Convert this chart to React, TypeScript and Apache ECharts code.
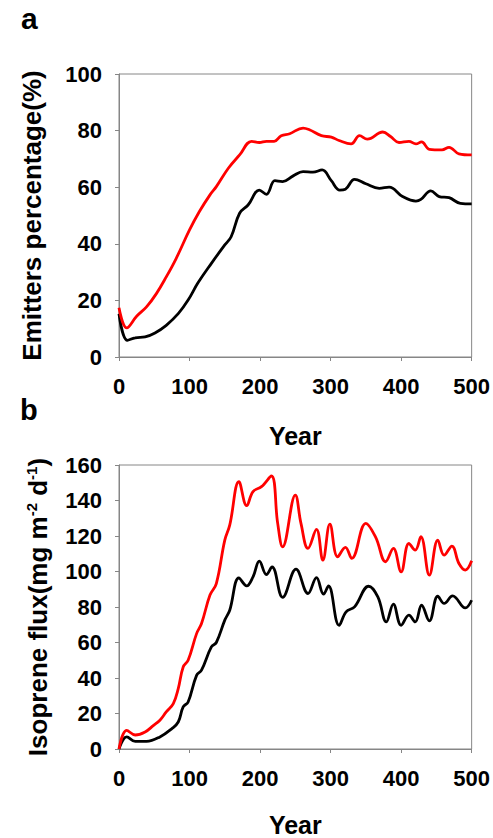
import React, { useEffect, useRef } from "react";
import * as echarts from "echarts";

// ---- Data ----
const xTicks = [0, 100, 200, 300, 400, 500];

// Panel a: Emitters percentage (%)
const emitRedYears = [0, 11, 25, 39, 53, 67, 81, 100, 114, 129, 138, 155, 171, 188, 199, 209, 220, 230, 242, 261, 270, 287, 301, 312, 329, 341, 352, 374, 385, 397, 411, 421, 429, 440, 458, 468, 482, 500];
const emitRed = [17.4, 10.3, 14.4, 17.7, 22.4, 28.3, 34.8, 44.9, 51.4, 57.3, 60.2, 66.7, 71.4, 76.2, 75.8, 76.2, 76.2, 78.2, 78.9, 80.9, 80.3, 78.2, 77.7, 76.5, 75.3, 78.2, 77.0, 79.5, 77.9, 75.8, 76.2, 75.3, 76.0, 73.4, 73.2, 74.1, 71.8, 71.4];

const emitBlackYears = [0, 12, 23, 37, 51, 67, 84, 98, 112, 131, 150, 159, 171, 183, 199, 209, 221, 232, 247, 261, 275, 288, 301, 313, 321, 334, 350, 369, 383, 402, 421, 428, 442, 454, 468, 484, 500];
const emitBlack = [15.3, 5.9, 6.8, 7.1, 8.5, 11.2, 15.3, 20.1, 26.2, 33.1, 39.6, 42.5, 50.8, 53.7, 59.0, 57.5, 62.3, 62.0, 64.0, 65.5, 65.3, 66.1, 62.3, 59.0, 59.3, 62.8, 61.2, 59.6, 60.0, 56.7, 55.1, 55.7, 58.7, 56.7, 56.3, 54.3, 54.1];

// Panel b: Isoprene flux (mg m-2 d-1)
const fluxRedYears = [0, 11, 23, 37, 49, 58, 67, 77, 84, 91, 98, 110, 117, 129, 138, 150, 157, 170, 181, 190, 202, 216, 225, 232, 250, 258, 268, 280, 289, 299, 310, 321, 330, 350, 364, 378, 389, 400, 411, 420, 428, 440, 452, 461, 472, 482, 491, 500];
const fluxRed = [0, 10.5, 7.9, 9.6, 13.3, 16.2, 20.9, 25.6, 34, 46.2, 50, 65, 70.7, 86.7, 93.2, 117.7, 126.1, 150.6, 137.1, 145, 147.8, 153.8, 127.1, 113.9, 143, 127.1, 113, 123.7, 106.4, 126.7, 108.3, 113.6, 107.4, 127.1, 119.2, 105.5, 113, 99.8, 115.8, 112, 119.6, 98, 117.7, 109.2, 114.3, 104.5, 100.8, 106];

const fluxBlackYears = [0, 11, 23, 39, 58, 75, 84, 91, 98, 110, 117, 131, 138, 150, 157, 170, 181, 190, 199, 209, 217, 232, 251, 268, 280, 290, 297, 312, 322, 334, 354, 367, 379, 389, 400, 411, 420, 429, 440, 452, 461, 473, 491, 500];
const fluxBlack = [0, 6.8, 4.3, 4.3, 6.8, 11.5, 15.2, 23.7, 26.5, 41.5, 44.4, 57.5, 60, 72.6, 78.2, 96.4, 91.9, 97, 105.8, 98.3, 102.6, 85.4, 101.3, 87.6, 96.6, 87.2, 91.9, 69.7, 77.3, 80.1, 91.7, 85.7, 71.6, 81.6, 69.7, 75.4, 71.6, 81, 72.2, 86.1, 82, 86.3, 79.5, 83.8];

const pairs = (xs: number[], ys: number[]) => xs.map((x, i) => [x, ys[i]]);

const FONT = "'Liberation Sans', Arial, sans-serif";
const AXIS_GRAY = "#868686";

function xAxisCfg(gridIndex: number, nameGap: number) {
  return {
    type: "value",
    gridIndex,
    min: xTicks[0],
    max: xTicks[xTicks.length - 1],
    interval: 100,
    name: "Year",
    nameLocation: "middle",
    nameGap,
    nameTextStyle: { fontFamily: FONT, fontWeight: "bold", fontSize: 25, color: "#000" },
    axisLine: { show: true, lineStyle: { color: AXIS_GRAY, width: 1 } },
    axisTick: { show: true, inside: false, length: 4, lineStyle: { color: AXIS_GRAY } },
    axisLabel: { fontFamily: FONT, fontWeight: "bold", fontSize: 22, color: "#000", margin: 18 },
    splitLine: { show: false },
  };
}

export default function App() {
  const ref = useRef<HTMLDivElement>(null);
  useEffect(() => {
    if (!ref.current) return;
    const chart = echarts.init(ref.current, undefined, { renderer: "svg" });
    const lineStyleRed = { color: "#ff0000", width: 2.8 };
    const lineStyleBlack = { color: "#000000", width: 2.8 };
    chart.setOption({
      animation: false,
      backgroundColor: "#ffffff",
      grid: [
        { left: 119, top: 74, width: 354, height: 283, show: true, borderColor: AXIS_GRAY, borderWidth: 1, backgroundColor: "transparent" },
        { left: 119, top: 465, width: 354, height: 284, show: true, borderColor: AXIS_GRAY, borderWidth: 1, backgroundColor: "transparent" },
      ],
      xAxis: [xAxisCfg(0, 66), xAxisCfg(1, 63)],
      yAxis: [
        {
          type: "value",
          gridIndex: 0,
          min: 0,
          max: 100,
          interval: 20,
          name: "Emitters percentage(%)",
          nameLocation: "middle",
          nameGap: 74,
          nameTextStyle: { fontFamily: FONT, fontWeight: "bold", fontSize: 26, color: "#000" },
          axisLine: { show: true, lineStyle: { color: AXIS_GRAY, width: 1 } },
          axisTick: { show: true, inside: false, length: 4, lineStyle: { color: AXIS_GRAY } },
          axisLabel: { fontFamily: FONT, fontWeight: "bold", fontSize: 22, color: "#000", margin: 17 },
          splitLine: { show: false },
        },
        {
          type: "value",
          gridIndex: 1,
          min: 0,
          max: 160,
          interval: 20,
          name: "Isoprene flux(mg m{sup|-2} d{sup|-1})",
          nameLocation: "middle",
          nameGap: 68,
          nameTextStyle: {
            fontFamily: FONT,
            fontWeight: "bold",
            fontSize: 26,
            color: "#000",
            rich: {
              sup: { fontFamily: FONT, fontWeight: "bold", fontSize: 15, color: "#000", verticalAlign: "top", padding: [0, 0, 12, 0] },
            },
          },
          axisLine: { show: true, lineStyle: { color: AXIS_GRAY, width: 1 } },
          axisTick: { show: true, inside: false, length: 4, lineStyle: { color: AXIS_GRAY } },
          axisLabel: { fontFamily: FONT, fontWeight: "bold", fontSize: 22, color: "#000", margin: 17 },
          splitLine: { show: false },
        },
      ],
      series: [
        { type: "line", xAxisIndex: 0, yAxisIndex: 0, data: pairs(emitRedYears, emitRed), smooth: 0.4, showSymbol: false, lineStyle: lineStyleRed, z: 3 },
        { type: "line", xAxisIndex: 0, yAxisIndex: 0, data: pairs(emitBlackYears, emitBlack), smooth: 0.4, showSymbol: false, lineStyle: lineStyleBlack, z: 2 },
        { type: "line", xAxisIndex: 1, yAxisIndex: 1, data: pairs(fluxRedYears, fluxRed), smooth: 0.4, showSymbol: false, lineStyle: lineStyleRed, z: 3 },
        { type: "line", xAxisIndex: 1, yAxisIndex: 1, data: pairs(fluxBlackYears, fluxBlack), smooth: 0.4, showSymbol: false, lineStyle: lineStyleBlack, z: 2 },
      ],
      graphic: [
        { type: "text", left: 21, top: 3, style: { text: "a", fontFamily: FONT, fontWeight: "bold", fontSize: 30, fill: "#000" } },
        { type: "text", left: 20, top: 395, style: { text: "b", fontFamily: FONT, fontWeight: "bold", fontSize: 29, fill: "#000" } },
      ],
    });
    return () => chart.dispose();
  }, []);
  return <div ref={ref} style={{ position: "fixed", left: 0, top: 0, width: 493, height: 838 }} />;
}
